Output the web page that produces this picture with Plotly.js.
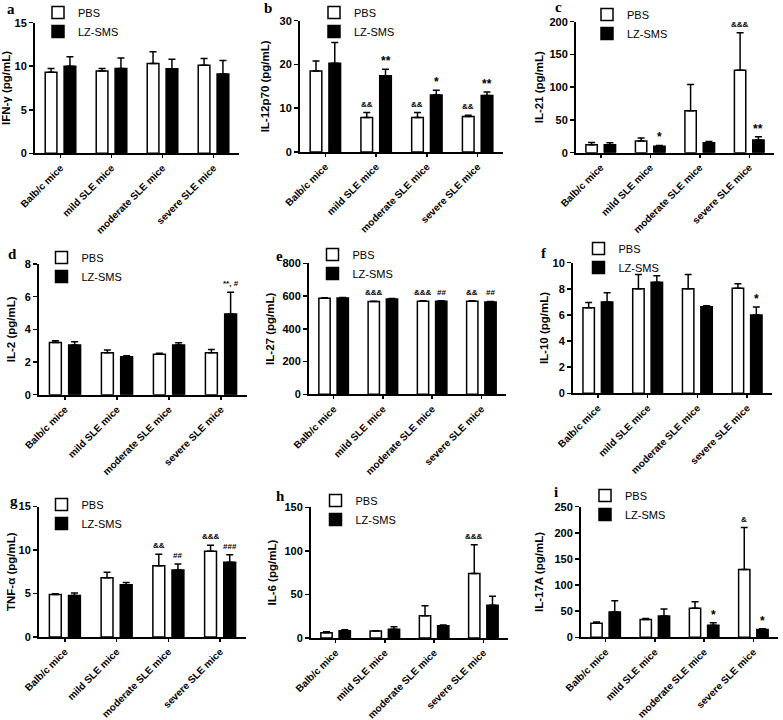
<!DOCTYPE html>
<html><head><meta charset="utf-8">
<script src="https://cdn.plot.ly/plotly-3.0.1.min.js"></script>
<style>html,body{margin:0;padding:0;background:#fff}#chart{width:783px;height:720px}</style>
</head><body><div id="chart"></div>
<script>
const categories = ['Balb/c mice', 'mild SLE mice', 'moderate SLE mice', 'severe SLE mice'];
const seriesNames = ['PBS', 'LZ-SMS'];

// a: IFN-γ
const ifngPBS = [9.3, 9.45, 10.3, 10.1];
const ifngPBSErr = [0.45, 0.3, 1.35, 0.8];
const ifngLZ = [10.0, 9.75, 9.7, 9.1];
const ifngLZErr = [1.1, 1.2, 1.1, 1.55];
const ifngPBSSig = ['', '', '', ''];
const ifngLZSig = ['', '', '', ''];

// b: IL-12p70
const il12PBS = [18.5, 7.9, 7.9, 8.1];
const il12PBSErr = [2.3, 1.1, 1.1, 0.3];
const il12LZ = [20.3, 17.4, 13.0, 12.9];
const il12LZErr = [4.7, 1.5, 1.1, 0.8];
const il12PBSSig = ['', '&&', '&&', '&&'];
const il12LZSig = ['', '**', '*', '**'];

// c: IL-21
const il21PBS = [12, 18, 64, 126];
const il21PBSErr = [3.5, 4.5, 40, 57];
const il21LZ = [12, 9.7, 15, 19.5];
const il21LZErr = [3, 1.3, 2, 4.9];
const il21PBSSig = ['', '', '', '&&&'];
const il21LZSig = ['', '*', '', '**'];

// d: IL-2
const il2PBS = [3.2, 2.57, 2.47, 2.57];
const il2PBSErr = [0.1, 0.16, 0.06, 0.2];
const il2LZ = [3.04, 2.33, 3.04, 4.94];
const il2LZErr = [0.2, 0.05, 0.14, 1.33];
const il2PBSSig = ['', '', '', ''];
const il2LZSig = ['', '', '', '**, #'];

// e: IL-27
const il27PBS = [586, 566, 568, 568];
const il27PBSErr = [3, 2, 3, 3];
const il27LZ = [588, 582, 568, 564];
const il27LZErr = [3, 3, 3, 3];
const il27PBSSig = ['', '&&&', '&&&', '&&'];
const il27LZSig = ['', '', '##', '##'];

// f: IL-10
const il10PBS = [6.56, 8.0, 8.0, 8.04];
const il10PBSErr = [0.4, 1.1, 1.1, 0.35];
const il10LZ = [7.0, 8.5, 6.63, 6.0];
const il10LZErr = [0.7, 0.5, 0.07, 0.6];
const il10PBSSig = ['', '', '', ''];
const il10LZSig = ['', '', '', '*'];

// g: TNF-α
const tnfPBS = [4.88, 6.8, 8.2, 9.85];
const tnfPBSErr = [0.1, 0.65, 1.3, 0.7];
const tnfLZ = [4.77, 6.0, 7.7, 8.6];
const tnfLZErr = [0.3, 0.25, 0.7, 0.85];
const tnfPBSSig = ['', '', '&&', '&&&'];
const tnfLZSig = ['', '', '##', '###'];

// h: IL-6
const il6PBS = [6.1, 8, 25.6, 74];
const il6PBSErr = [1.2, 0.4, 11.4, 33];
const il6LZ = [8.4, 10, 14.2, 37.5];
const il6LZErr = [1.2, 3, 0.8, 10.5];
const il6PBSSig = ['', '', '', '&&&'];
const il6LZSig = ['', '', '', ''];

// i: IL-17A
const il17PBS = [27, 34, 55.5, 130];
const il17PBSErr = [2.5, 2, 12.5, 80];
const il17LZ = [48.5, 41, 23, 15];
const il17LZErr = [21.5, 13, 5, 1.5];
const il17PBSSig = ['', '', '', '&'];
const il17LZSig = ['', '', '*', '*'];

const yTitles = ['IFN-γ (pg/mL)', 'IL-12p70 (pg/mL)', 'IL-21 (pg/mL)', 'IL-2 (pg/mL)', 'IL-27 (pg/mL)', 'IL-10 (pg/mL)', 'TNF-α (pg/mL)', 'IL-6 (pg/mL)', 'IL-17A (pg/mL)'];
const yMax = [15, 30, 200, 8, 800, 10, 15, 150, 250];
const yStep = [5, 10, 50, 2, 200, 2, 5, 50, 50];
const panelLetters = ['a', 'b', 'c', 'd', 'e', 'f', 'g', 'h', 'i'];

const panels = [
  [ifngPBS, ifngPBSErr, ifngLZ, ifngLZErr, ifngPBSSig, ifngLZSig],
  [il12PBS, il12PBSErr, il12LZ, il12LZErr, il12PBSSig, il12LZSig],
  [il21PBS, il21PBSErr, il21LZ, il21LZErr, il21PBSSig, il21LZSig],
  [il2PBS, il2PBSErr, il2LZ, il2LZErr, il2PBSSig, il2LZSig],
  [il27PBS, il27PBSErr, il27LZ, il27LZErr, il27PBSSig, il27LZSig],
  [il10PBS, il10PBSErr, il10LZ, il10LZErr, il10PBSSig, il10LZSig],
  [tnfPBS, tnfPBSErr, tnfLZ, tnfLZErr, tnfPBSSig, tnfLZSig],
  [il6PBS, il6PBSErr, il6LZ, il6LZErr, il6PBSSig, il6LZSig],
  [il17PBS, il17PBSErr, il17LZ, il17LZErr, il17PBSSig, il17LZSig]
];

// layout geometry (pixels): plot box [left, right, top, bottom]
const W = 783, H = 720;
const boxes = [
  [35, 239, 22.7, 153.3], [300, 503, 20.7, 152], [576, 774, 21.7, 152.7],
  [39, 247, 264, 394.7], [309, 506, 263.3, 394.3], [573, 772, 262.7, 393.3],
  [39, 246, 506.5, 637], [311, 508, 507.3, 638], [581, 778, 506.7, 637.3]
];
const titleStandoff = [2, 8, 3, 7, 5, 2, 1, 5, 8];
const letterPos = [[11, 9], [268, 8], [558, 7], [12, 254], [279, 256], [544, 253], [14, 501], [280, 496], [556, 492]];
const legendPos = [[60, 8], [336, 8], [609, 10], [63.5, 253], [334.5, 250], [600.5, 244], [63.5, 500], [337.5, 496], [607, 491]];

const FONT = 'Arial, "Liberation Sans", sans-serif';
const BARGAP = 0.26, GROUPGAP = 0.38;
const off = (1 - BARGAP) / 4;
const zeros = [0, 0, 0, 0];

const traces = [];
const layout = {
  width: W, height: H,
  margin: {l: 0, r: 0, t: 0, b: 0, autoexpand: false},
  paper_bgcolor: '#fff', plot_bgcolor: '#fff',
  barmode: 'group', bargap: BARGAP, bargroupgap: GROUPGAP,
  font: {family: FONT, color: '#000', size: 10},
  showlegend: true,
  annotations: []
};

panels.forEach((p, k) => {
  const s = k === 0 ? '' : String(k + 1);
  const [pbs, pbsErr, lz, lzErr, pbsSig, lzSig] = p;
  const b = boxes[k];
  const common = {type: 'bar', x: categories, xaxis: 'x' + s, yaxis: 'y' + s, legend: 'legend' + s, hoverinfo: 'y+name'};
  traces.push(Object.assign({}, common, {
    name: seriesNames[0], y: pbs,
    marker: {color: '#ffffff', line: {color: '#000', width: 1.5}},
    error_y: {type: 'data', array: pbsErr, arrayminus: zeros, symmetric: false, color: '#000', thickness: 1.5, width: 3.5}
  }));
  traces.push(Object.assign({}, common, {
    name: seriesNames[1], y: lz,
    marker: {color: '#000000', line: {color: '#000', width: 1.5}},
    error_y: {type: 'data', array: lzErr, arrayminus: zeros, symmetric: false, color: '#000', thickness: 1.5, width: 3.5}
  }));
  layout['xaxis' + s] = {
    domain: [b[0] / W, b[1] / W], anchor: 'y' + s, type: 'category', range: [-0.5, 3.5],
    showline: true, linecolor: '#000', linewidth: 2, ticks: 'outside', ticklen: 3, tickwidth: 1.5, tickcolor: '#000',
    tickangle: -45, tickfont: {family: FONT, size: 10, weight: 'bold', color: '#000'},
    showgrid: false, zeroline: false, fixedrange: true
  };
  layout['yaxis' + s] = {
    domain: [1 - b[3] / H, 1 - b[2] / H], anchor: 'x' + s, range: [0, yMax[k]], tick0: 0, dtick: yStep[k],
    showline: true, linecolor: '#000', linewidth: 2, ticks: 'outside', ticklen: 4, tickwidth: 1.5, tickcolor: '#000',
    tickfont: {family: FONT, size: 11, weight: 'bold', color: '#000'},
    title: {text: yTitles[k], font: {family: FONT, size: 11.5, weight: 'bold', color: '#000'}, standoff: titleStandoff[k]},
    showgrid: false, zeroline: false, fixedrange: true
  };
  const lp = legendPos[k];
  layout['legend' + s] = {
    x: (lp[0] - 22) / W, y: 1 - (lp[1] - 10) / H, xanchor: 'left', yanchor: 'top',
    bgcolor: 'rgba(0,0,0,0)', borderwidth: 0, tracegroupgap: 0, itemwidth: 30,
    font: {family: FONT, size: 11, color: '#000'}
  };
  layout.annotations.push({
    xref: 'paper', yref: 'paper', x: letterPos[k][0] / W, y: 1 - letterPos[k][1] / H,
    xanchor: 'center', yanchor: 'middle', showarrow: false, text: panelLetters[k],
    font: {family: '"Liberation Serif", "Times New Roman", serif', size: 15, weight: 'bold', color: '#000'}
  });
  const addSig = (vals, errs, sigs, dx) => {
    sigs.forEach((t, i) => {
      if (!t) return;
      const star = t.indexOf('*') === 0 && t.indexOf('#') < 0;
      layout.annotations.push({
        xref: 'x' + s, yref: 'y' + s, x: i + dx, y: vals[i] + errs[i],
        xanchor: 'center', yanchor: 'bottom', showarrow: false, text: t,
        yshift: star ? -1 : 2,
        font: {family: FONT, size: star ? 12 : 8, weight: 'bold', color: '#000'}
      });
    });
  };
  addSig(pbs, pbsErr, pbsSig, -off);
  addSig(lz, lzErr, lzSig, off);
});

Plotly.newPlot('chart', traces, layout, {staticPlot: true, displayModeBar: false});
</script>
</body></html>
